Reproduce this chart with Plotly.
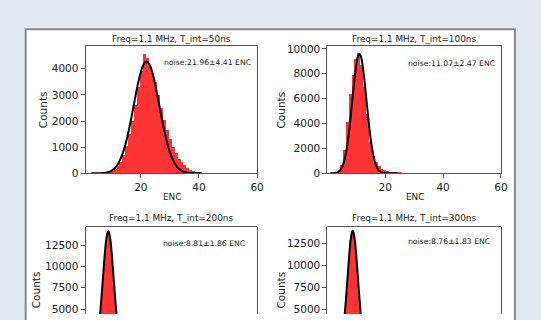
import plotly.graph_objects as go

W, H = 541, 320

# ---------------- data ----------------
# Freq=1.1 MHz, T_int=50ns
tl_bins = list(range(3, 43))
tl_counts = [5, 8, 10, 15, 25, 40, 60, 100, 160, 280, 450, 700, 1050, 1500, 2000,
             2600, 3300, 3900, 4570, 4400, 4150, 3850, 3500, 3000, 2500, 2050, 1650,
             1300, 1000, 760, 560, 420, 300, 210, 140, 90, 60, 40, 25, 15]
tl_fit_x = list(range(3, 42))
tl_fit_y = [0.4, 1.1, 2.6, 6.1, 13.6, 28.7, 57, 108, 195, 334, 543, 839, 1232, 1718,
            2274, 2860, 3417, 3877, 4180, 4280, 4163, 3847, 3375, 2813, 2228, 1675,
            1197, 813, 523, 321, 187, 103, 54, 27, 12.8, 5.7, 2.5, 1.0, 0.4]

# Freq=1.1 MHz, T_int=100ns
tr_bins = list(range(3, 33))
tr_counts = [20, 150, 650, 1900, 4100, 6400, 7900, 9200, 9650, 8700, 6900, 4800, 2500,
             1400, 900, 550, 350, 250, 180, 140, 110, 90, 70, 55, 45, 35, 25, 20, 15, 10]
tr_fit_x = [1, 2, 3, 3.5, 4, 4.5, 5, 5.5, 6, 6.5, 7, 7.5, 8, 8.5, 9, 9.5, 10, 10.5, 11,
            11.5, 12, 12.5, 13, 13.5, 14, 14.5, 15, 15.5, 16, 16.5, 17, 17.5, 18, 19,
            20, 21, 22, 23, 24]
tr_fit_y = [2.4, 11.3, 46, 87.5, 159, 279, 469, 755, 1165, 1733, 2470, 3377, 4435, 5586,
            6758, 7843, 8740, 9348, 9596, 9456, 8943, 8119, 7077, 5917, 4750, 3660,
            2707, 1923, 1310, 856, 538, 324, 187, 56, 14, 3, 0.6, 0.1, 0]

# Freq=1.1 MHz, T_int=200ns
bl_bins = [2.5, 3.0, 3.5, 4.0, 4.5, 5.0, 5.5, 6.0, 6.5, 7.0, 7.5, 8.0, 8.5, 9.0, 9.5,
           10.0, 10.5, 11.0, 11.5, 12.0, 12.5, 13.0, 13.5, 14.0, 14.5, 15.0, 15.5, 16.0]
bl_counts = [40, 100, 250, 520, 1000, 1800, 3000, 4700, 7000, 9300, 11500, 13200, 13900,
             13800, 13000, 11200, 9000, 6800, 4800, 3200, 2000, 1200, 700, 400, 220,
             130, 80, 50]
bl_fit_x = [2.5, 3, 3.5, 4, 4.5, 5, 5.5, 6, 6.5, 7, 7.5, 8, 8.5, 8.81, 9, 9.5, 10, 10.5,
            11, 11.5, 12, 12.5, 13, 13.5, 14, 14.5, 15, 15.5]
bl_fit_y = [45, 107, 241, 499, 962, 1730, 2894, 4500, 6521, 8780, 11000, 12830, 13905,
            14100, 14030, 13160, 11490, 9333, 7050, 4955, 3240, 1971, 1115, 586, 288,
            131, 55, 22]

# Freq=1.1 MHz, T_int=300ns
br_bins = [2.5, 3.0, 3.5, 4.0, 4.5, 5.0, 5.5, 6.0, 6.5, 7.0, 7.5, 8.0, 8.5, 9.0, 9.5,
           10.0, 10.5, 11.0, 11.5, 12.0, 12.5, 13.0, 13.5, 14.0, 14.5, 15.0, 15.5, 16.0]
br_counts = [35, 90, 220, 480, 950, 1750, 2950, 4600, 6600, 8900, 11200, 13000, 13800,
             13700, 12900, 11100, 8900, 6600, 4600, 3000, 1800, 1000, 520, 260, 120,
             60, 30, 15]
br_fit_x = [2.5, 3, 3.5, 4, 4.5, 5, 5.5, 6, 6.5, 7, 7.5, 8, 8.5, 8.76, 9, 9.5, 10, 10.5,
            11, 11.5, 12, 12.5, 13, 13.5, 14, 14.5, 15]
br_fit_y = [40, 99, 224, 474, 929, 1690, 2856, 4475, 6510, 8788, 11006, 12797, 13810,
            13950, 13830, 12855, 11090, 8878, 6598, 4548, 2911, 1730, 954, 488, 232,
            102, 42]

titles = ["Freq=1.1 MHz, T_int=50ns", "Freq=1.1 MHz, T_int=100ns",
          "Freq=1.1 MHz, T_int=200ns", "Freq=1.1 MHz, T_int=300ns"]
noise_labels = ["noise:21.96±4.41 ENC", "noise:11.07±2.47 ENC",
                "noise:8.81±1.86 ENC", "noise:8.76±1.83 ENC"]

top_x_ticks = [20, 40, 60]
tl_y_ticks = [0, 1000, 2000, 3000, 4000]
tr_y_ticks = [0, 2000, 4000, 6000, 8000, 10000]
b_y_ticks = [5000, 7500, 10000, 12500]

# ---------------- figure ----------------
FONT = "DejaVu Sans"
BAR = "rgba(255,0,0,0.8)"
FRAME = "#555555"
TXT = "#222222"
BG = "#e2e9f1"


def px(x):
    return x / W


def py(y):
    return 1 - y / H


fig = go.Figure()

panels = [
    ("x", "y", tl_bins, tl_counts, 1.0, tl_fit_x, tl_fit_y),
    ("x2", "y2", tr_bins, tr_counts, 1.0, tr_fit_x, tr_fit_y),
    ("x3", "y3", bl_bins, bl_counts, 0.5, bl_fit_x, bl_fit_y),
    ("x4", "y4", br_bins, br_counts, 0.5, br_fit_x, br_fit_y),
]
for xa, ya, bins, counts, bw, fx, fy in panels:
    fig.add_trace(go.Bar(x=bins, y=counts, width=bw, xaxis=xa, yaxis=ya,
                         marker=dict(color=BAR, line=dict(width=0)),
                         showlegend=False, hoverinfo="skip"))
    fig.add_trace(go.Scatter(x=fx, y=fy, xaxis=xa, yaxis=ya, mode="lines",
                             line=dict(color="black", width=2, shape="spline"),
                             showlegend=False, hoverinfo="skip"))

left_dom = [px(86.7), px(260.5)]
right_dom = [px(331.7), px(507.5)]
top_dom = [py(175.3), py(44.3)]
bot_dom = [0.0, py(230)]

tickfont = dict(family=FONT, size=10.5, color=TXT)
common = dict(showgrid=False, zeroline=False, showline=True, mirror=True,
              linecolor=FRAME, linewidth=1, ticks="outside", ticklen=4,
              tickwidth=1, tickcolor=FRAME, tickfont=tickfont)


def tick_kw(vals):
    return dict(tickmode="array", tickvals=vals, ticktext=[str(v) for v in vals])


fig.update_layout(
    xaxis=dict(domain=left_dom, range=[1.0, 60], anchor="y", **tick_kw(top_x_ticks), **common),
    yaxis=dict(domain=top_dom, range=[0, 4870], anchor="x", **tick_kw(tl_y_ticks), **common),
    xaxis2=dict(domain=right_dom, range=[0.0, 60], anchor="y2", **tick_kw(top_x_ticks), **common),
    yaxis2=dict(domain=top_dom, range=[0, 10230], anchor="x2", **tick_kw(tr_y_ticks), **common),
    xaxis3=dict(domain=left_dom, range=[1.0, 60], visible=False, anchor="y3"),
    yaxis3=dict(domain=bot_dom, range=[4432, 14659], anchor="x3", **tick_kw(b_y_ticks), **common),
    xaxis4=dict(domain=right_dom, range=[0.0, 60], visible=False, anchor="y4"),
    yaxis4=dict(domain=bot_dom, range=[4443, 14473], anchor="x4", **tick_kw(b_y_ticks), **common),
    bargap=0,
    width=W, height=H,
    margin=dict(l=0, r=0, t=0, b=0),
    paper_bgcolor=BG,
    plot_bgcolor="white",
)

# white panel with grey border (extends beyond bottom edge)
shapes = [dict(type="rect", xref="paper", yref="paper",
               x0=px(26), x1=px(521.7), y0=-0.3, y1=py(27),
               fillcolor="white", line=dict(color="#8a8a8a", width=2), layer="below")]
# top frame lines of the lower (cropped) subplots
for dom in (left_dom, right_dom):
    shapes.append(dict(type="line", xref="paper", yref="paper",
                       x0=dom[0], x1=dom[1], y0=bot_dom[1], y1=bot_dom[1],
                       line=dict(color=FRAME, width=1), layer="above"))
fig.update_layout(shapes=shapes)

ann = []
title_pos = [(173.6, 37), (419.6, 37), (173.6, 221.5), (419.6, 221.5)]
for t, (x, y) in zip(titles, title_pos):
    ann.append(dict(text=t, x=px(x), y=py(y), xref="paper", yref="paper",
                    xanchor="center", yanchor="middle", showarrow=False,
                    font=dict(family=FONT, size=8.9, color=TXT)))
noise_pos = [(256, 61.7), (503.3, 62.3), (250.7, 247.7), (498, 245.7)]
for t, (x, y) in zip(noise_labels, noise_pos):
    ann.append(dict(text=t, x=px(x), y=py(y), xref="paper", yref="paper",
                    xanchor="right", yanchor="middle", showarrow=False,
                    font=dict(family=FONT, size=7.7, color=TXT)))
for x, y in [(43, 109.8), (284.5, 109.8), (36, 295), (284.5, 295)]:
    ann.append(dict(text="Counts", x=px(x), y=py(y), xref="paper", yref="paper",
                    xanchor="center", yanchor="middle", textangle=-90, showarrow=False,
                    font=dict(family=FONT, size=10.5, color=TXT)))
for x in (174, 420):
    ann.append(dict(text="ENC", x=px(x), y=py(199.5), xref="paper", yref="paper",
                    xanchor="center", yanchor="middle", showarrow=False,
                    font=dict(family=FONT, size=8.8, color=TXT)))
fig.update_layout(annotations=ann)

fig.write_html(
    "out.html",
    config={"displayModeBar": False},
    post_script=("document.body.style.margin='0';document.body.style.padding='0';"
                 "document.body.style.overflow='hidden';"
                 f"document.body.style.background='{BG}';"),
)
